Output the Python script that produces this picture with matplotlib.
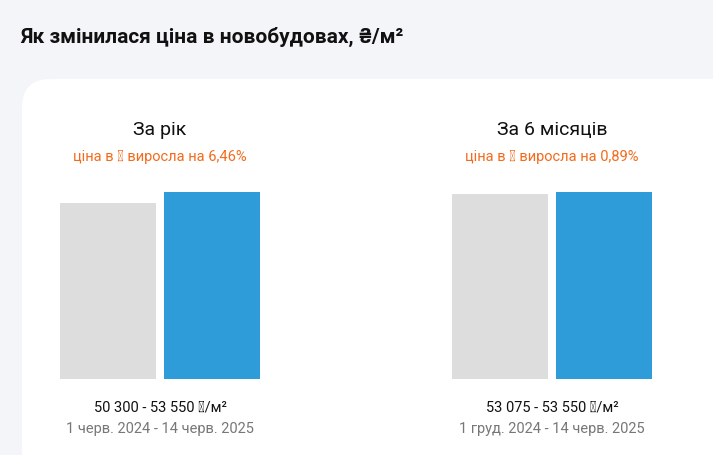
import matplotlib
matplotlib.use("Agg")
import matplotlib.pyplot as plt
from matplotlib.patches import FancyBboxPatch

title = "Як змінилася ціна в новобудовах, ₴/м²"
panel_titles = ["За рік", "За 6 місяців"]
panel_subtitles = ["ціна в ₴ виросла на 6,46%", "ціна в ₴ виросла на 0,89%"]
old_values = [50300, 53075]
new_values = [53550, 53550]
range_labels = ["50 300 - 53 550 ₴/м²", "53 075 - 53 550 ₴/м²"]
date_labels = ["1 черв. 2024 - 14 черв. 2025", "1 груд. 2024 - 14 черв. 2025"]

W, H = 713, 456
fig = plt.figure(figsize=(W/100, H/100), dpi=100)
fig.patch.set_facecolor("#f4f5f9")
plt.rcParams["font.family"] = "Roboto"

def fx(x): return x / W
def fy(y): return 1 - y / H

fig.text(fx(20), fy(37), title, fontsize=15, fontweight="bold", color="#111", va="center")
card = FancyBboxPatch((fx(22), fy(480)), fx(760), 400/H, boxstyle="round,pad=0,rounding_size=0.04",
                      transform=fig.transFigure, facecolor="white", edgecolor="none",
                      mutation_aspect=W/H, zorder=-5)
fig.patches.append(card)

ymax = max(new_values)
for i, left in enumerate([60, 452]):
    ax = fig.add_axes([fx(left), fy(380), fx(200), (380-193)/H])
    ax.patch.set_visible(False)
    ax.bar([0, 1], [old_values[i], new_values[i]], width=0.92, color=["#dddddd", "#2d9cd8"])
    ax.set_xlim(-0.46, 1.46)
    ax.set_ylim(0, ymax)
    ax.axis("off")
    cx = left + 100
    fig.text(fx(cx), fy(130), panel_titles[i], fontsize=14, ha="center", va="center", color="#111")
    fig.text(fx(cx), fy(157), panel_subtitles[i], fontsize=10.5, ha="center", va="center", color="#f26b1d")
    fig.text(fx(cx), fy(408), range_labels[i], fontsize=10.5, ha="center", va="center", color="#111")
    fig.text(fx(cx), fy(429), date_labels[i], fontsize=10.5, ha="center", va="center", color="#777777")

fig.savefig("out.png", dpi=100, facecolor=fig.get_facecolor())
